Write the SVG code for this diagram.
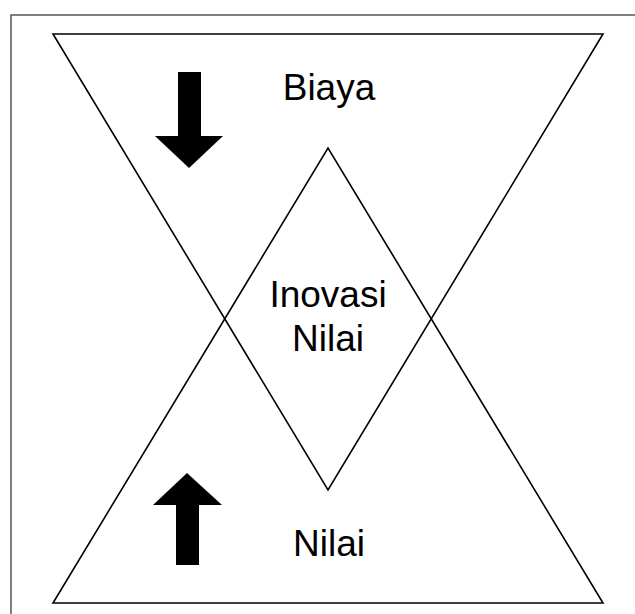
<svg xmlns="http://www.w3.org/2000/svg" width="635" height="614" viewBox="0 0 635 614">
<style>
.frame{fill:none;stroke:#555;stroke-width:1.5}
.tri{fill:none;stroke:#000;stroke-width:1.6;stroke-linejoin:miter}
.arrow{fill:#000;stroke:none}
.lbl{font-family:"Liberation Sans",Arial,sans-serif;font-size:37px;fill:#000;text-anchor:middle}
</style>
<rect width="635" height="614" fill="#fff"/>
<rect class="frame" x="11" y="15" width="640" height="620"/>
<g id="connectors"></g>
<g id="top-triangle"><polygon class="tri" points="53,34 603,34 328,490"/></g>
<g id="bottom-triangle"><polygon class="tri" points="53,603 603,603 328,148"/></g>
<g id="arrow-down"><polygon class="arrow" points="178,72 201,72 201,136 223,136 189,168 155,136 178,136"/></g>
<g id="arrow-up"><polygon class="arrow" points="187,473 222,505 199,505 199,565 176,565 176,505 153,505"/></g>
<g id="biaya"><text class="lbl" x="329" y="100">Biaya</text></g>
<g id="inovasi-nilai"><text class="lbl" x="328" y="307">Inovasi</text><text class="lbl" x="328" y="351">Nilai</text></g>
<g id="nilai"><text class="lbl" x="329" y="556">Nilai</text></g>
</svg>
